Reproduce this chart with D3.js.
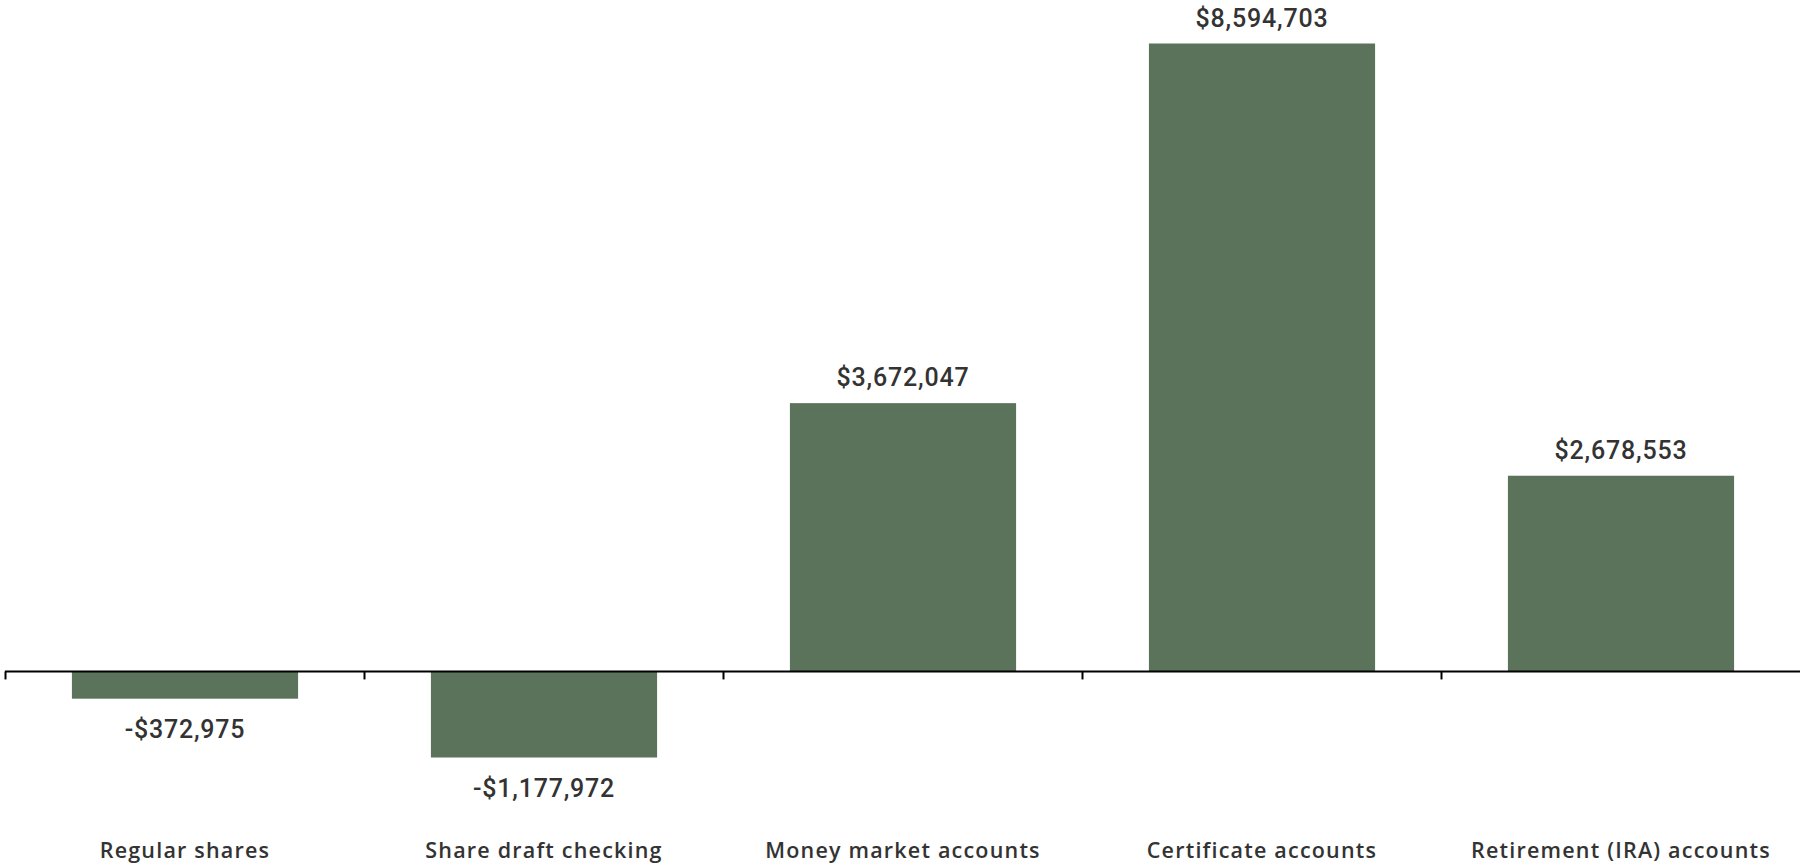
<!DOCTYPE html>
<html>
<head>
<meta charset="utf-8">
<script src="https://cdn.jsdelivr.net/npm/d3@7"></script>
<style>
  body { margin: 0; background: #fff; }
  svg { display: block; }
</style>
</head>
<body>
<div id="chart"></div>
<script>
const categories = ["Regular shares", "Share draft checking", "Money market accounts", "Certificate accounts", "Retirement (IRA) accounts"];
const values = [-372975, -1177972, 3672047, 8594703, 2678553];

const svgWidth = 1800;
const svgHeight = 866;
const barColor = "#5b735a";
const textColor = "#333333";

const svg = d3.select("#chart")
    .append("svg")
    .attr("width", svgWidth)
    .attr("height", svgHeight);

// band scale, padding split so ticks fall on band edges
const xScale = d3.scaleBand()
    .domain(categories)
    .range([5.5, 1800.5])
    .paddingInner(0.37)
    .paddingOuter(0.185);

const yScale = d3.scaleLinear()
    .domain([d3.min(values), d3.max(values)])
    .range([757.5, 43.5]);

const fmt = d => (d < 0 ? "-$" : "$") + d3.format(",")(Math.abs(d));
const gap = (xScale.step() - xScale.bandwidth()) / 2;

// bars
svg.selectAll(".bar")
    .data(values)
    .enter()
    .append("rect")
    .attr("class", "bar")
    .attr("x", (d, i) => xScale(categories[i]))
    .attr("y", d => yScale(Math.max(0, d)))
    .attr("width", xScale.bandwidth())
    .attr("height", d => Math.abs(yScale(d) - yScale(0)))
    .attr("fill", barColor);

// zero line + ticks
const y0 = yScale(0);
svg.append("line")
    .attr("x1", 5).attr("x2", 1800)
    .attr("y1", y0).attr("y2", y0)
    .attr("stroke", "#000").attr("stroke-width", 2);

svg.selectAll(".tick")
    .data(categories)
    .enter()
    .append("line")
    .attr("class", "tick")
    .attr("x1", d => xScale(d) - gap)
    .attr("x2", d => xScale(d) - gap)
    .attr("y1", y0).attr("y2", y0 + 8)
    .attr("stroke", "#000").attr("stroke-width", 2);

// value labels
svg.selectAll(".val")
    .data(values)
    .enter()
    .append("text")
    .attr("class", "val")
    .attr("x", (d, i) => xScale(categories[i]) + xScale.bandwidth() / 2)
    .attr("y", d => d >= 0 ? yScale(d) - 17 : yScale(d) + 39)
    .attr("text-anchor", "middle")
    .attr("font-family", "Roboto, sans-serif")
    .attr("font-weight", 500)
    .attr("font-size", "25px")
    .attr("letter-spacing", "0.8px")
    .attr("fill", textColor)
    .text(d => fmt(d));

// category labels
svg.selectAll(".cat")
    .data(categories)
    .enter()
    .append("text")
    .attr("class", "cat")
    .attr("x", d => xScale(d) + xScale.bandwidth() / 2)
    .attr("y", 858)
    .attr("text-anchor", "middle")
    .attr("font-family", "'Open Sans', sans-serif")
    .attr("font-weight", 600)
    .attr("font-size", "21.5px")
    .attr("letter-spacing", "1.2px")
    .attr("fill", textColor)
    .text(d => d);
</script>
</body>
</html>
